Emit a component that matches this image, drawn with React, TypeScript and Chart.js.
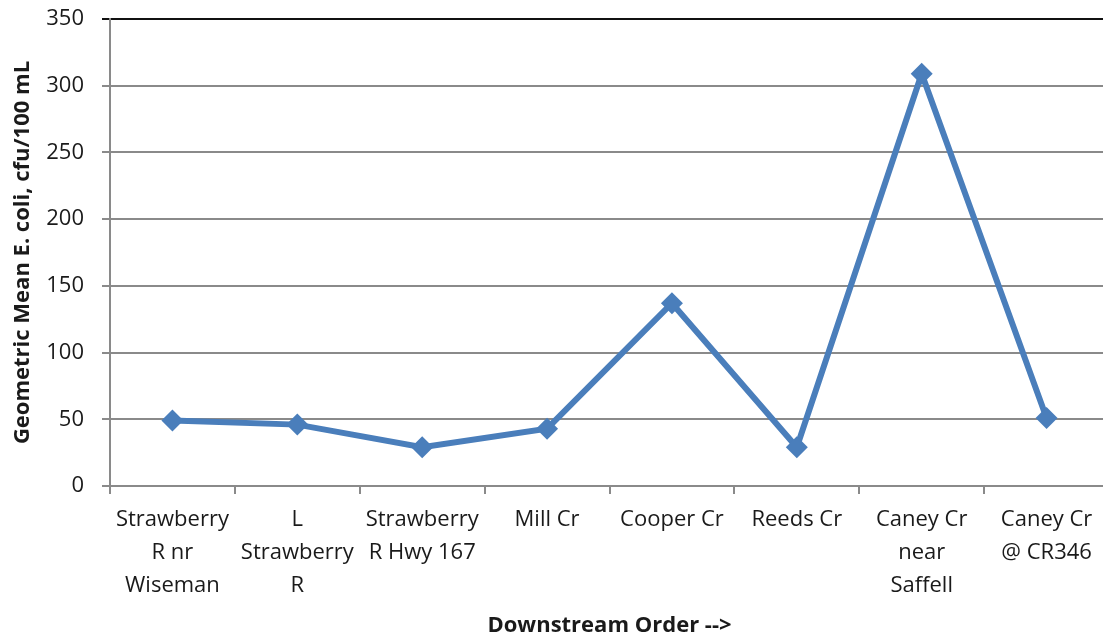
import React, { useEffect, useRef } from "react";
import { Chart, registerables } from "chart.js";

Chart.register(...registerables);

const categories: string[][] = [
  ["Strawberry", "R nr", "Wiseman"],
  ["L", "Strawberry", "R"],
  ["Strawberry", "R Hwy 167"],
  ["Mill Cr"],
  ["Cooper Cr"],
  ["Reeds Cr"],
  ["Caney Cr", "near", "Saffell"],
  ["Caney Cr", "@ CR346"],
];
const geoMeanValues: number[] = [49, 46, 29, 43, 137, 29, 309, 51];
const yTicks: number[] = [0, 50, 100, 150, 200, 250, 300, 350];
const yTitle = "Geometric Mean E. coli, cfu/100 mL";
const xTitle = "Downstream Order -->";

const FONT = "'Open Sans', 'DejaVu Sans', sans-serif";
const GRID = "#8a8a8a";

export default function App() {
  const ref = useRef<HTMLCanvasElement | null>(null);
  useEffect(() => {
    if (!ref.current) return;
    const chart = new Chart(ref.current, {
      type: "line",
      data: {
        labels: categories,
        datasets: [
          {
            data: geoMeanValues,
            borderColor: "#4A7EBB",
            backgroundColor: "#4A7EBB",
            borderWidth: 6,
            pointStyle: "rectRot",
            pointRadius: 11,
            pointBorderWidth: 0,
            tension: 0,
          },
        ],
      },
      options: {
        responsive: false,
        animation: false,
        layout: { padding: { top: 19, right: 10, bottom: 0, left: 0 } },
        plugins: { legend: { display: false }, tooltip: { enabled: false } },
        scales: {
          x: {
            type: "category",
            offset: true,
            afterFit: (s: any) => {
              s.height = 639 - 486;
            },
            grid: {
              offset: true,
              drawOnChartArea: false,
              drawTicks: true,
              tickLength: 8,
              color: GRID,
              lineWidth: 2,
            },
            border: { color: GRID, width: 2 },
            ticks: {
              color: "#1a1a1a",
              font: { family: FONT, size: 22, lineHeight: 1.5 },
              padding: 9,
              maxRotation: 0,
              autoSkip: false,
            },
            title: {
              display: true,
              text: xTitle,
              color: "#1a1a1a",
              font: { family: FONT, size: 22, weight: "bold" },
              padding: { top: 0, bottom: 0 },
            },
          },
          y: {
            min: 0,
            max: 350,
            afterFit: (s: any) => {
              s.width = 110;
              s.paddingTop = 0;
              s.paddingBottom = 0;
            },
            afterBuildTicks: (s: any) => {
              s.ticks = yTicks.map((v) => ({ value: v }));
            },
            grid: {
              drawTicks: true,
              tickLength: 8,
              color: (ctx: any) => (ctx.tick && ctx.tick.value === 350 ? "#111" : GRID),
              lineWidth: 2,
            },
            border: { color: GRID, width: 2 },
            ticks: {
              color: "#1a1a1a",
              font: { family: FONT, size: 22 },
              padding: 18,
            },
            title: {
              display: true,
              text: yTitle,
              color: "#1a1a1a",
              font: { family: FONT, size: 22, weight: "bold" },
              padding: { top: 10, bottom: 0 },
            },
          },
        },
      },
    });
    return () => chart.destroy();
  }, []);
  return (
    <div
      style={{
        position: "fixed",
        left: 0,
        top: 0,
        width: 1103,
        height: 639,
        overflow: "hidden",
        background: "#fff",
      }}
    >
      <canvas ref={ref} width={1120} height={639} style={{ display: "block" }} />
    </div>
  );
}
